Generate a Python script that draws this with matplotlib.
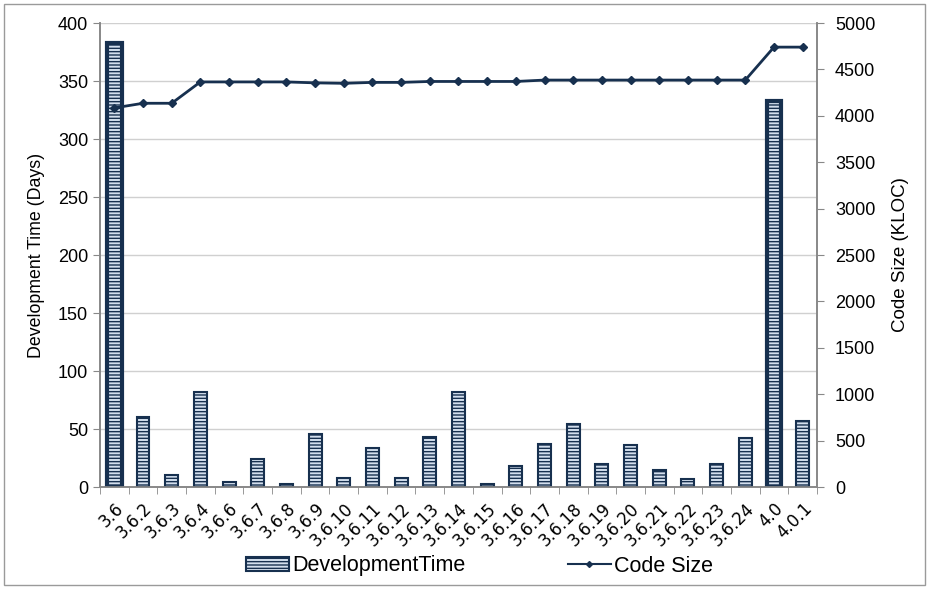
import matplotlib
matplotlib.use("Agg")
import matplotlib.pyplot as plt
import numpy as np
from matplotlib.patches import Rectangle, Patch
from matplotlib.lines import Line2D

plt.rcParams['font.family'] = ['Liberation Sans', 'DejaVu Sans']
plt.rcParams['hatch.linewidth'] = 1.0

versions = ["3.6", "3.6.2", "3.6.3", "3.6.4", "3.6.6", "3.6.7", "3.6.8", "3.6.9",
            "3.6.10", "3.6.11", "3.6.12", "3.6.13", "3.6.14", "3.6.15", "3.6.16",
            "3.6.17", "3.6.18", "3.6.19", "3.6.20", "3.6.21", "3.6.22", "3.6.23",
            "3.6.24", "4.0", "4.0.1"]
dev_time = [383, 60, 10, 82, 4, 24, 3, 46, 8, 34, 8, 43, 82, 3, 18, 37, 54, 20,
            36, 15, 7, 20, 42, 333, 57]
code_size = [4085, 4135, 4135, 4365, 4365, 4365, 4365, 4355, 4350, 4360, 4360,
             4370, 4370, 4370, 4370, 4385, 4385, 4385, 4385, 4385, 4385, 4385,
             4385, 4740, 4740]
major = ["3.6", "4.0"]

navy = '#17304f'
face = '#d3dfee'
hatch = '-----'

fig = plt.figure(figsize=(9.29, 5.89), dpi=100)
fig.patches.append(Rectangle((0.004, 0.006), 0.992, 0.988, transform=fig.transFigure,
                             fill=False, edgecolor='#9a9a9a', linewidth=1.0))
ax = fig.add_axes([100/929, 1-487/589, 717/929, 464/589])
ax2 = ax.twinx()

x = np.arange(len(versions))
for i, (v, d) in enumerate(zip(versions, dev_time)):
    if v in major:
        ax.bar(i, d, width=0.52, facecolor=face, edgecolor=navy, hatch=hatch,
               linewidth=3.0, zorder=3)
    else:
        ax.bar(i, d, width=0.45, facecolor=face, edgecolor=navy, hatch=hatch,
               linewidth=1.5, zorder=3)

ax.set_xlim(-0.5, len(versions)-0.5)
ax.set_ylim(0, 400)
ax.set_yticks(range(0, 401, 50))
ax.grid(axis='y', color='#d0d0d0', linewidth=1.0, zorder=0)
ax.set_axisbelow(True)
ax.set_xticks(x)
ax.set_xticks(np.arange(len(versions) + 1) - 0.5, minor=True)
ax.set_xticklabels(versions, rotation=45, ha='right', rotation_mode='anchor',
                   fontsize=12, family='DejaVu Sans')
ax.tick_params(axis='x', which='major', length=0, pad=9)
ax.tick_params(axis='x', which='minor', length=5, color='#888888')
ax.tick_params(axis='y', length=5, color='#888888', labelsize=13)
ax.set_ylabel('Development Time (Days)', fontsize=12.8, labelpad=9)

ax2.plot(x, code_size, color=navy, linewidth=2, marker='D', markersize=4, zorder=5)
ax2.set_ylim(0, 5000)
ax2.set_yticks(range(0, 5001, 500))
ax2.tick_params(axis='y', length=5, color='#888888', labelsize=13, pad=8)
ax2.set_ylabel('Code Size (KLOC)', fontsize=13.5, labelpad=12)

for a in (ax, ax2):
    a.spines['top'].set_visible(False)
    for s in ('left', 'right', 'bottom'):
        a.spines[s].set_color('#888888')
        a.spines[s].set_linewidth(1.2)

h1 = Patch(facecolor=face, edgecolor=navy, hatch=hatch, linewidth=1.5, label='DevelopmentTime')
h2 = Line2D([], [], color=navy, linewidth=1.5, marker='D', markersize=3, label='Code Size')
fig.legend(handles=[h1, h2], loc='center', bbox_to_anchor=(0.516, 1-566/589),
           ncol=2, frameon=False, fontsize=15.5, columnspacing=4.75, handlelength=2.0,
           handleheight=0.6, handletextpad=0.15)

fig.savefig('out.png', dpi=100)
